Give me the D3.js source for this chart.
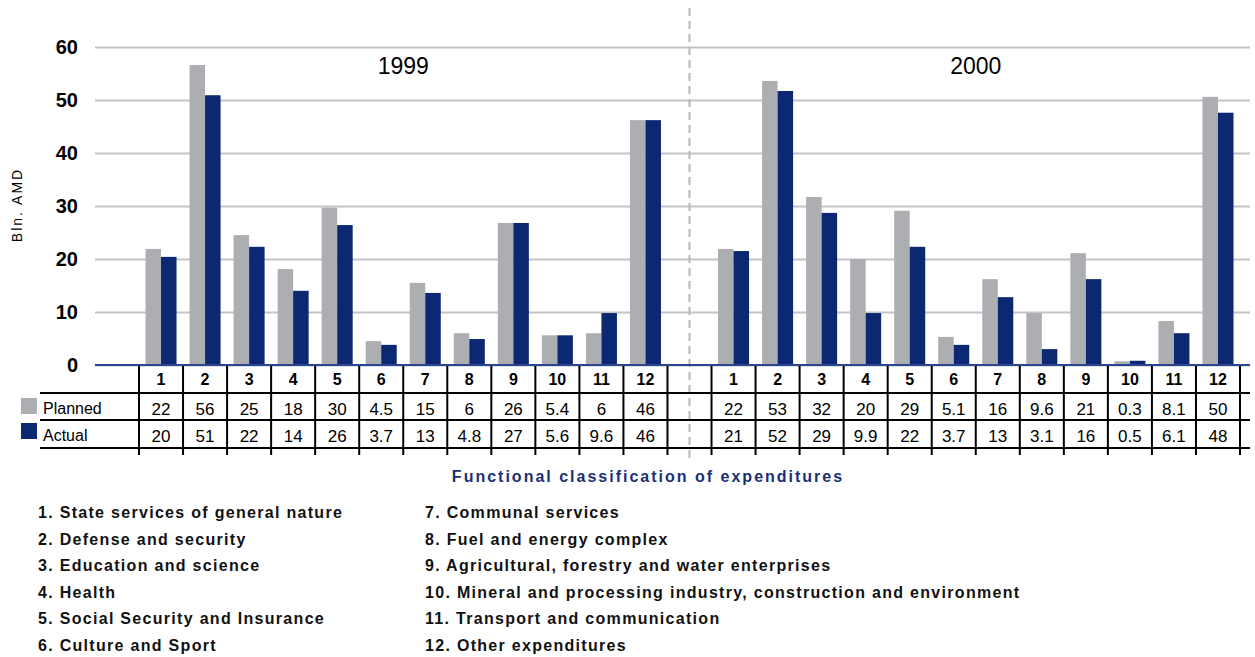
<!DOCTYPE html>
<html>
<head>
<meta charset="utf-8">
<script src="https://cdnjs.cloudflare.com/ajax/libs/d3/7.8.5/d3.min.js"></script>
<style>
  body { margin: 0; background: #fff; }
  text { font-family: "Liberation Sans", Arial, sans-serif; }
</style>
</head>
<body>
<div class="chart"></div>
<script>
// Data
var years = ["1999", "2000"];
var categories = ["1", "2", "3", "4", "5", "6", "7", "8", "9", "10", "11", "12"];
var yTicks = [0, 10, 20, 30, 40, 50, 60];

// bar heights (bln. AMD)
var planned1999 = [21.9, 56.6, 24.5, 18.1, 29.7, 4.5, 15.5, 6.0, 26.8, 5.6, 6.0, 46.2];
var actual1999 = [20.4, 50.9, 22.3, 14.0, 26.4, 3.8, 13.6, 4.9, 26.8, 5.6, 9.8, 46.2];
var planned2000 = [21.9, 53.6, 31.7, 20.0, 29.1, 5.3, 16.2, 9.8, 21.1, 0.7, 8.3, 50.6];
var actual2000 = [21.5, 51.7, 28.7, 9.8, 22.3, 3.8, 12.8, 3.0, 16.2, 0.8, 6.0, 47.6];

// data table labels
var plannedLabels1999 = ["22", "56", "25", "18", "30", "4.5", "15", "6", "26", "5.4", "6", "46"];
var actualLabels1999 = ["20", "51", "22", "14", "26", "3.7", "13", "4.8", "27", "5.6", "9.6", "46"];
var plannedLabels2000 = ["22", "53", "32", "20", "29", "5.1", "16", "9.6", "21", "0.3", "8.1", "50"];
var actualLabels2000 = ["21", "52", "29", "9.9", "22", "3.7", "13", "3.1", "16", "0.5", "6.1", "48"];

var descriptions = [
  "1. State services of general nature",
  "2. Defense and security",
  "3. Education and science",
  "4. Health",
  "5. Social Security and Insurance",
  "6. Culture and Sport",
  "7. Communal services",
  "8. Fuel and energy complex",
  "9. Agricultural, forestry and water enterprises",
  "10. Mineral and processing industry, construction and environment",
  "11. Transport and communication",
  "12. Other expenditures"
];

var series = [
  { key: "Planned", color: "#adaeb2", values: { "1999": planned1999, "2000": planned2000 },
    labels: { "1999": plannedLabels1999, "2000": plannedLabels2000 } },
  { key: "Actual", color: "#0c2873", values: { "1999": actual1999, "2000": actual2000 },
    labels: { "1999": actualLabels1999, "2000": actualLabels2000 } }
];

var svgWidth = 1255;
var svgHeight = 657;

var plotLeft = 95, plotRight = 1250;
var slotLeft = 139, slotRight = 1240;
var tableTop = 365, rowLines = [393, 420, 448], tableBottom = 455;

var svg = d3.select(".chart")
  .append("svg")
  .attr("width", svgWidth)
  .attr("height", svgHeight);

// one slot per category, with an empty slot between the years
var slots = [];
years.forEach(function (yr, i) {
  if (i > 0) slots.push("gap");
  categories.forEach(function (c) { slots.push(yr + "-" + c); });
});

var xScale = d3.scaleBand()
  .domain(slots)
  .range([slotLeft, slotRight]);

var xSub = d3.scaleBand()
  .domain(series.map(d => d.key))
  .range([0, xScale.bandwidth()])
  .paddingOuter(0.42);

var yScale = d3.scaleLinear()
  .domain([0, 60])
  .range([tableTop, 47]);

// gridlines + y labels
var leftAxis = d3.axisLeft(yScale)
  .tickValues(yTicks)
  .tickSize(-(plotRight - plotLeft))
  .tickPadding(17)
  .tickFormat(d3.format("d"));

var yAxisG = svg.append("g")
  .attr("transform", `translate(${plotLeft}, 0)`)
  .call(leftAxis);
yAxisG.select(".domain").remove();
yAxisG.selectAll(".tick line")
  .attr("stroke", "#c4c4c7")
  .attr("stroke-width", 2);
yAxisG.selectAll(".tick text")
  .attr("fill", "#000")
  .style("font-size", "20px")
  .style("font-weight", "bold")
  .style("font-family", "'Liberation Sans', Arial, sans-serif");

svg.append("text")
  .attr("transform", "translate(22, 205) rotate(-90)")
  .attr("text-anchor", "middle")
  .style("font-size", "14px")
  .style("letter-spacing", "2px")
  .attr("fill", "#000")
  .text("Bln. AMD");

// bars
var barData = [];
years.forEach(function (yr) {
  categories.forEach(function (c, j) {
    series.forEach(function (s) {
      barData.push({ slot: yr + "-" + c, key: s.key, color: s.color, value: s.values[yr][j] });
    });
  });
});

svg.append("g")
  .selectAll("rect")
  .data(barData)
  .enter()
  .append("rect")
  .attr("x", d => xScale(d.slot) + xSub(d.key))
  .attr("y", d => yScale(d.value))
  .attr("width", xSub.bandwidth())
  .attr("height", d => yScale(0) - yScale(d.value))
  .attr("fill", d => d.color);

// year captions
years.forEach(function (yr) {
  svg.append("text")
    .attr("x", xScale(yr + "-7"))
    .attr("y", 74)
    .attr("text-anchor", "middle")
    .style("font-size", "23px")
    .attr("fill", "#000")
    .text(yr);
});

// dashed separator between the years
var gapX = xScale("gap") + xScale.bandwidth() / 2;
svg.append("line")
  .attr("x1", gapX).attr("x2", gapX)
  .attr("y1", 8).attr("y2", 460)
  .attr("stroke", "#b8b8bc")
  .attr("stroke-width", 2)
  .attr("stroke-dasharray", "8,5");

// data table: lines
var tableG = svg.append("g");
rowLines.forEach(function (y) {
  tableG.append("line")
    .attr("x1", 40).attr("x2", plotRight)
    .attr("y1", y).attr("y2", y)
    .attr("stroke", "#000")
    .attr("stroke-width", 2);
});
var bounds = slots.map(s => xScale(s)).concat([slotRight]);
tableG.selectAll(".vline")
  .data(bounds)
  .enter()
  .append("line")
  .attr("x1", d => d).attr("x2", d => d)
  .attr("y1", tableTop).attr("y2", tableBottom)
  .attr("stroke", "#000")
  .attr("stroke-width", 2);

// category axis line
svg.append("line")
  .attr("x1", plotLeft).attr("x2", plotRight)
  .attr("y1", tableTop).attr("y2", tableTop)
  .attr("stroke", "#2c4590")
  .attr("stroke-width", 2);

// data table: header and values
years.forEach(function (yr) {
  categories.forEach(function (c, j) {
    var cx = xScale(yr + "-" + c) + xScale.bandwidth() / 2;
    tableG.append("text")
      .attr("x", cx).attr("y", 385)
      .attr("text-anchor", "middle")
      .style("font-size", "16px")
      .style("font-weight", "bold")
      .text(c);
    series.forEach(function (s, k) {
      tableG.append("text")
        .attr("x", cx).attr("y", k === 0 ? 415 : 442)
        .attr("text-anchor", "middle")
        .style("font-size", "17px")
        .text(s.labels[yr][j]);
    });
  });
});

// legend keys in the table
series.forEach(function (s, k) {
  var yy = k === 0 ? 398 : 423;
  tableG.append("rect")
    .attr("x", 21).attr("y", yy)
    .attr("width", 16).attr("height", 16)
    .attr("fill", s.color);
  tableG.append("text")
    .attr("x", 43).attr("y", k === 0 ? 414 : 441)
    .style("font-size", "16px")
    .text(s.key);
});

// axis title
svg.append("text")
  .attr("x", 648)
  .attr("y", 482)
  .attr("text-anchor", "middle")
  .style("font-size", "16px")
  .style("font-weight", "bold")
  .style("letter-spacing", "2px")
  .attr("fill", "#1b2f78")
  .text("Functional classification of expenditures");

// category descriptions, two columns
svg.append("g")
  .selectAll("text")
  .data(descriptions)
  .enter()
  .append("text")
  .attr("x", (d, i) => i < 6 ? 38 : 425)
  .attr("y", (d, i) => 518 + (i % 6) * 26.6)
  .style("font-size", "16px")
  .style("font-weight", "bold")
  .style("letter-spacing", "1.3px")
  .attr("fill", "#111")
  .text(d => d);
</script>
</body>
</html>
